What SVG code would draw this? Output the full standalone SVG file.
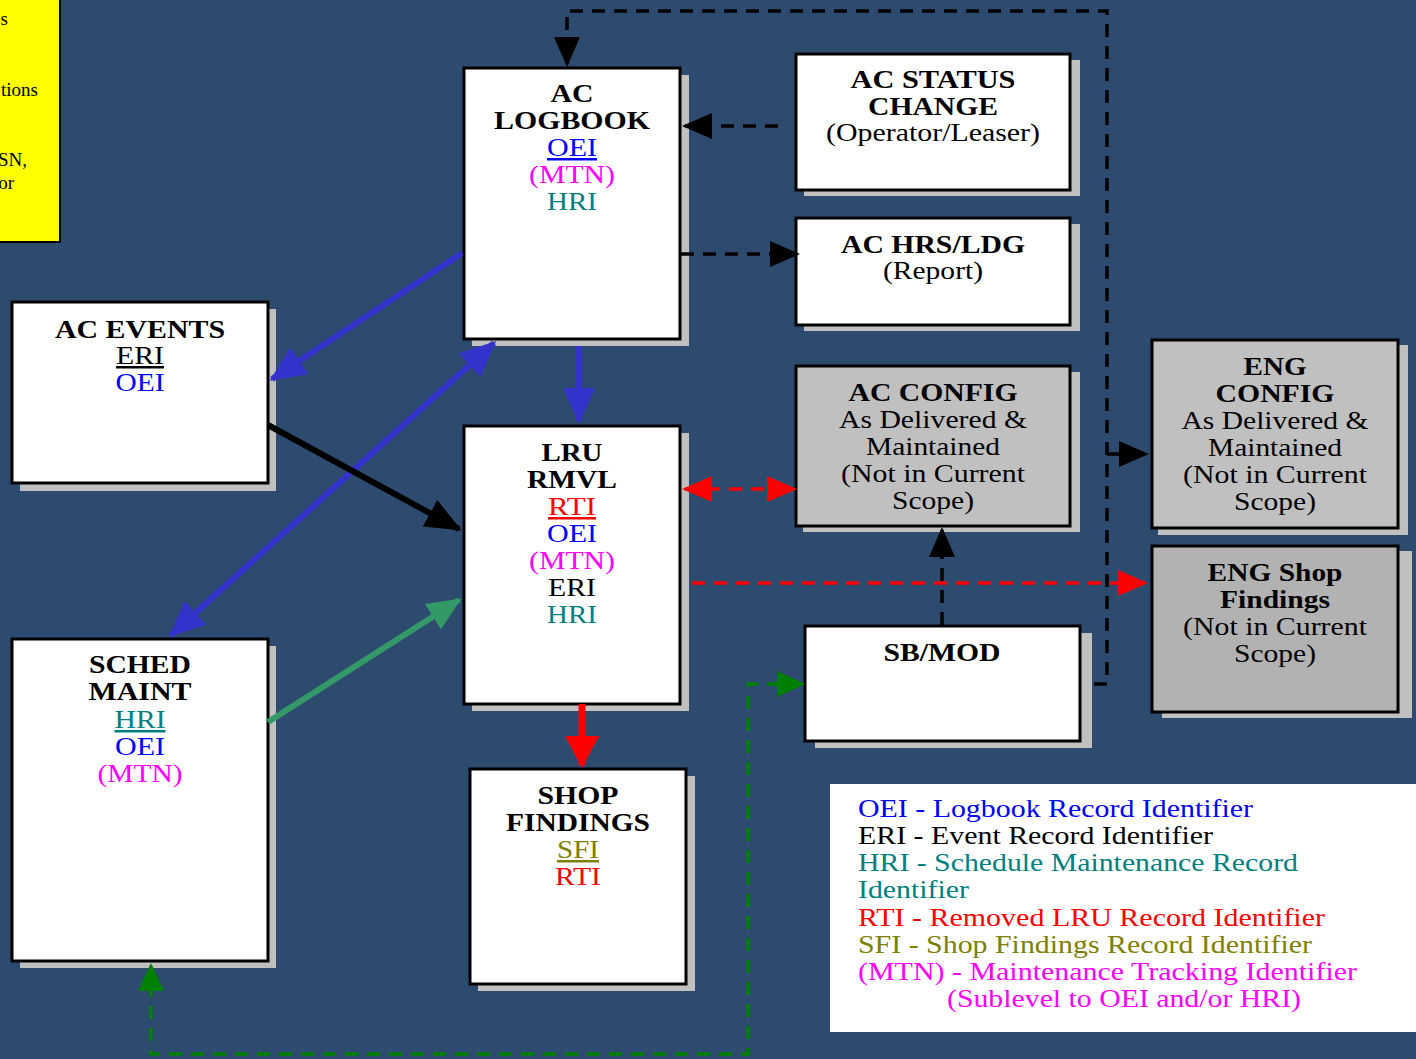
<svg xmlns="http://www.w3.org/2000/svg" width="1416" height="1059" viewBox="0 0 1416 1059">
  <style>
    .box { fill: #FFFFFF; stroke: #000000; stroke-width: 3; }
    .gbox { fill: #C0C0C0; stroke: #000000; stroke-width: 3; }
    .dbox { fill: #B2B2B2; stroke: #000000; stroke-width: 3; }
    .shadow { fill: #C0C0C0; }
    text { font-family: "Liberation Serif", "Times New Roman", serif; font-size: 25px; text-anchor: middle; }
    .b { font-weight: bold; fill: #000000; }
    .k { fill: #000000; }
    .blue { fill: #0000FF; }
    .mag { fill: #FF00FF; }
    .teal { fill: #008080; }
    .red { fill: #FF0000; }
    .olive { fill: #808000; }
    .u { text-decoration: underline; }
    .leg { text-anchor: start; font-size: 25px; }
    .note { text-anchor: end; font-size: 19px; fill: #000000; }
    .dash-k { fill: none; stroke: #000000; stroke-width: 3.5; stroke-dasharray: 13 9; }
    .dash-r { fill: none; stroke: #FF0000; stroke-width: 3.5; stroke-dasharray: 13 9; }
    .dash-g { fill: none; stroke: #008000; stroke-width: 3.5; stroke-dasharray: 13 9; }
    .solid-b { fill: none; stroke: #3333CC; stroke-width: 6; }
    .solid-k { fill: none; stroke: #000000; stroke-width: 6; }
    .solid-g { fill: none; stroke: #339966; stroke-width: 6; }
    .solid-r { fill: none; stroke: #FF0000; stroke-width: 7; }
  </style>
  <defs>
    <marker id="ah-k" markerUnits="userSpaceOnUse" markerWidth="30" markerHeight="26" refX="27" refY="13" orient="auto-start-reverse">
      <path d="M0,0 L30,13 L0,26 Z" fill="#000000"/>
    </marker>
    <marker id="ah-kb" markerUnits="userSpaceOnUse" markerWidth="36" markerHeight="30" refX="33" refY="15" orient="auto-start-reverse">
      <path d="M0,0 L36,15 L0,30 Z" fill="#000000"/>
    </marker>
    <marker id="ah-r" markerUnits="userSpaceOnUse" markerWidth="30" markerHeight="26" refX="27" refY="13" orient="auto-start-reverse">
      <path d="M0,0 L30,13 L0,26 Z" fill="#FF0000"/>
    </marker>
    <marker id="ah-rb" markerUnits="userSpaceOnUse" markerWidth="32" markerHeight="34" refX="29" refY="17" orient="auto-start-reverse">
      <path d="M0,0 L32,17 L0,34 Z" fill="#FF0000"/>
    </marker>
    <marker id="ah-g" markerUnits="userSpaceOnUse" markerWidth="28" markerHeight="26" refX="25" refY="13" orient="auto-start-reverse">
      <path d="M0,0 L28,13 L0,26 Z" fill="#008000"/>
    </marker>
    <marker id="ah-gs" markerUnits="userSpaceOnUse" markerWidth="34" markerHeight="30" refX="31" refY="15" orient="auto-start-reverse">
      <path d="M0,0 L34,15 L0,30 Z" fill="#339966"/>
    </marker>
    <marker id="ah-b" markerUnits="userSpaceOnUse" markerWidth="36" markerHeight="32" refX="33" refY="16" orient="auto-start-reverse">
      <path d="M0,0 L36,16 L0,32 Z" fill="#3333CC"/>
    </marker>
  </defs>

  <!-- page background -->
  <rect x="0" y="0" width="1416" height="1059" fill="#2D4A6F"/>

  <!-- yellow note panel, cut at the left edge -->
  <g id="note">
    <rect x="-4" y="-4" width="64" height="246" fill="#FFFF00" stroke="#000000" stroke-width="2"/>
    <text class="note" x="8" y="25">s</text>
    <text class="note" x="38" y="96">tions</text>
    <text class="note" x="27" y="166">SN,</text>
    <text class="note" x="14" y="189">or</text>
  </g>

  <!-- AC LOGBOOK -->
  <g id="ac-logbook">
    <rect class="shadow" x="472" y="75" width="217" height="271"/>
    <rect class="box" x="464" y="68" width="216" height="271"/>
    <text class="b" x="572" y="102" textLength="43" lengthAdjust="spacingAndGlyphs">AC</text>
    <text class="b" x="572" y="129" textLength="156" lengthAdjust="spacingAndGlyphs">LOGBOOK</text>
    <text class="blue u" x="572" y="156" textLength="50" lengthAdjust="spacingAndGlyphs">OEI</text>
    <text class="mag" x="572" y="183" textLength="86" lengthAdjust="spacingAndGlyphs">(MTN)</text>
    <text class="teal" x="572" y="210" textLength="50" lengthAdjust="spacingAndGlyphs">HRI</text>
  </g>

  <!-- AC STATUS CHANGE -->
  <g id="ac-status-change">
    <rect class="shadow" x="804" y="60" width="276" height="136"/>
    <rect class="box" x="796" y="54" width="274" height="136"/>
    <text class="b" x="933" y="88" textLength="165" lengthAdjust="spacingAndGlyphs">AC STATUS</text>
    <text class="b" x="933" y="115" textLength="130" lengthAdjust="spacingAndGlyphs">CHANGE</text>
    <text class="k" x="933" y="141" textLength="214" lengthAdjust="spacingAndGlyphs">(Operator/Leaser)</text>
  </g>

  <!-- AC HRS/LDG -->
  <g id="ac-hrs-ldg">
    <rect class="shadow" x="804" y="224" width="276" height="107"/>
    <rect class="box" x="796" y="218" width="274" height="107"/>
    <text class="b" x="933" y="253" textLength="184" lengthAdjust="spacingAndGlyphs">AC HRS/LDG</text>
    <text class="k" x="933" y="279" textLength="100" lengthAdjust="spacingAndGlyphs">(Report)</text>
  </g>

  <!-- AC EVENTS -->
  <g id="ac-events">
    <rect class="shadow" x="20" y="309" width="256" height="182"/>
    <rect class="box" x="12" y="302" width="256" height="181"/>
    <text class="b" x="140" y="338" textLength="170" lengthAdjust="spacingAndGlyphs">AC EVENTS</text>
    <text class="k u" x="140" y="364" textLength="48" lengthAdjust="spacingAndGlyphs">ERI</text>
    <text class="blue" x="140" y="391" textLength="49" lengthAdjust="spacingAndGlyphs">OEI</text>
  </g>

  <!-- LRU RMVL -->
  <g id="lru-rmvl">
    <rect class="shadow" x="472" y="433" width="217" height="278"/>
    <rect class="box" x="464" y="426" width="216" height="278"/>
    <text class="b" x="572" y="461" textLength="61" lengthAdjust="spacingAndGlyphs">LRU</text>
    <text class="b" x="572" y="488" textLength="90" lengthAdjust="spacingAndGlyphs">RMVL</text>
    <text class="red u" x="572" y="515" textLength="48" lengthAdjust="spacingAndGlyphs">RTI</text>
    <text class="blue" x="572" y="542" textLength="50" lengthAdjust="spacingAndGlyphs">OEI</text>
    <text class="mag" x="572" y="569" textLength="86" lengthAdjust="spacingAndGlyphs">(MTN)</text>
    <text class="k" x="572" y="596" textLength="48" lengthAdjust="spacingAndGlyphs">ERI</text>
    <text class="teal" x="572" y="623" textLength="50" lengthAdjust="spacingAndGlyphs">HRI</text>
  </g>

  <!-- AC CONFIG -->
  <g id="ac-config">
    <rect class="shadow" x="803" y="372" width="277" height="160"/>
    <rect class="gbox" x="796" y="366" width="274" height="160"/>
    <text class="b" x="933" y="401" textLength="169" lengthAdjust="spacingAndGlyphs">AC CONFIG</text>
    <text class="k" x="933" y="428" textLength="188" lengthAdjust="spacingAndGlyphs">As Delivered &amp;</text>
    <text class="k" x="933" y="455" textLength="134" lengthAdjust="spacingAndGlyphs">Maintained</text>
    <text class="k" x="933" y="482" textLength="184" lengthAdjust="spacingAndGlyphs">(Not in Current</text>
    <text class="k" x="933" y="509" textLength="82" lengthAdjust="spacingAndGlyphs">Scope)</text>
  </g>

  <!-- ENG CONFIG -->
  <g id="eng-config">
    <rect class="shadow" x="1158" y="345" width="250" height="190"/>
    <rect class="gbox" x="1152" y="340" width="246" height="188"/>
    <text class="b" x="1275" y="375" textLength="63" lengthAdjust="spacingAndGlyphs">ENG</text>
    <text class="b" x="1275" y="402" textLength="119" lengthAdjust="spacingAndGlyphs">CONFIG</text>
    <text class="k" x="1275" y="429" textLength="187" lengthAdjust="spacingAndGlyphs">As Delivered &amp;</text>
    <text class="k" x="1275" y="456" textLength="134" lengthAdjust="spacingAndGlyphs">Maintained</text>
    <text class="k" x="1275" y="483" textLength="184" lengthAdjust="spacingAndGlyphs">(Not in Current</text>
    <text class="k" x="1275" y="510" textLength="82" lengthAdjust="spacingAndGlyphs">Scope)</text>
  </g>

  <!-- ENG Shop Findings -->
  <g id="eng-shop-findings">
    <rect class="shadow" x="1162" y="551" width="250" height="167"/>
    <rect class="dbox" x="1152" y="546" width="246" height="166"/>
    <text class="b" x="1275" y="581" textLength="135" lengthAdjust="spacingAndGlyphs">ENG Shop</text>
    <text class="b" x="1275" y="608" textLength="110" lengthAdjust="spacingAndGlyphs">Findings</text>
    <text class="k" x="1275" y="635" textLength="184" lengthAdjust="spacingAndGlyphs">(Not in Current</text>
    <text class="k" x="1275" y="662" textLength="82" lengthAdjust="spacingAndGlyphs">Scope)</text>
  </g>

  <!-- SB/MOD -->
  <g id="sb-mod">
    <rect class="shadow" x="815" y="633" width="277" height="115"/>
    <rect class="box" x="805" y="626" width="275" height="115"/>
    <text class="b" x="942" y="661" textLength="117" lengthAdjust="spacingAndGlyphs">SB/MOD</text>
  </g>

  <!-- SCHED MAINT -->
  <g id="sched-maint">
    <rect class="shadow" x="20" y="646" width="256" height="322"/>
    <rect class="box" x="12" y="639" width="256" height="322"/>
    <text class="b" x="140" y="673" textLength="102" lengthAdjust="spacingAndGlyphs">SCHED</text>
    <text class="b" x="140" y="700" textLength="103" lengthAdjust="spacingAndGlyphs">MAINT</text>
    <text class="teal u" x="140" y="728" textLength="51" lengthAdjust="spacingAndGlyphs">HRI</text>
    <text class="blue" x="140" y="755" textLength="50" lengthAdjust="spacingAndGlyphs">OEI</text>
    <text class="mag" x="140" y="782" textLength="85" lengthAdjust="spacingAndGlyphs">(MTN)</text>
  </g>

  <!-- SHOP FINDINGS -->
  <g id="shop-findings">
    <rect class="shadow" x="478" y="776" width="217" height="215"/>
    <rect class="box" x="470" y="769" width="216" height="215"/>
    <text class="b" x="578" y="804" textLength="81" lengthAdjust="spacingAndGlyphs">SHOP</text>
    <text class="b" x="578" y="831" textLength="144" lengthAdjust="spacingAndGlyphs">FINDINGS</text>
    <text class="olive u" x="578" y="858" textLength="42" lengthAdjust="spacingAndGlyphs">SFI</text>
    <text class="red" x="578" y="885" textLength="46" lengthAdjust="spacingAndGlyphs">RTI</text>
  </g>

  <!-- legend -->
  <g id="legend">
    <rect x="830" y="784" width="590" height="248" fill="#FFFFFF"/>
    <text class="leg blue" x="858" y="817" textLength="395" lengthAdjust="spacingAndGlyphs">OEI - Logbook Record Identifier</text>
    <text class="leg k" x="858" y="844" textLength="355" lengthAdjust="spacingAndGlyphs">ERI - Event Record Identifier</text>
    <text class="leg teal" x="858" y="871" textLength="440" lengthAdjust="spacingAndGlyphs">HRI - Schedule Maintenance Record</text>
    <text class="leg teal" x="858" y="898" textLength="111" lengthAdjust="spacingAndGlyphs">Identifier</text>
    <text class="leg red" x="858" y="926" textLength="467" lengthAdjust="spacingAndGlyphs">RTI - Removed LRU Record Identifier</text>
    <text class="leg olive" x="858" y="953" textLength="454" lengthAdjust="spacingAndGlyphs">SFI - Shop Findings Record Identifier</text>
    <text class="leg mag" x="858" y="980" textLength="499" lengthAdjust="spacingAndGlyphs">(MTN) - Maintenance Tracking Identifier</text>
    <text class="leg mag" x="947" y="1007" textLength="354" lengthAdjust="spacingAndGlyphs">(Sublevel to OEI and/or HRI)</text>
  </g>

  <!-- connectors, drawn over the box shadows -->
  <g id="connectors">
    <!-- SB/MOD loop back to AC LOGBOOK and ENG CONFIG -->
    <path class="dash-k" d="M1094,684 H1107 V11 H567 V64" marker-end="url(#ah-k)"/>
    <path class="dash-k" d="M1107,454 H1146" marker-end="url(#ah-k)"/>
    <!-- AC STATUS CHANGE to AC LOGBOOK -->
    <path class="dash-k" d="M778,126 H685" marker-end="url(#ah-k)"/>
    <!-- AC LOGBOOK to AC HRS/LDG -->
    <path class="dash-k" d="M681,254 H797" marker-end="url(#ah-k)"/>
    <!-- SB/MOD to AC CONFIG -->
    <path class="dash-k" d="M942,625 V530" marker-end="url(#ah-k)"/>
    <!-- LRU RMVL <-> AC CONFIG -->
    <path class="dash-r" d="M685,489 H794" marker-start="url(#ah-r)" marker-end="url(#ah-r)"/>
    <!-- LRU RMVL to ENG Shop Findings -->
    <path class="dash-r" d="M692,583 H1145" marker-end="url(#ah-r)"/>
    <!-- SB/MOD <-> SCHED MAINT -->
    <path class="dash-g" d="M802,684 H748 V1054 H151 V966" marker-start="url(#ah-g)" marker-end="url(#ah-g)"/>
    <!-- AC LOGBOOK to AC EVENTS -->
    <path class="solid-b" d="M462,253 L272,379" marker-end="url(#ah-b)"/>
    <!-- SCHED MAINT <-> AC LOGBOOK -->
    <path class="solid-b" d="M171,635 L494,343" marker-start="url(#ah-b)" marker-end="url(#ah-b)"/>
    <!-- AC LOGBOOK to LRU RMVL -->
    <path class="solid-b" d="M579,346 V421" marker-end="url(#ah-b)"/>
    <!-- AC EVENTS to LRU RMVL -->
    <path class="solid-k" d="M268,425 L459,529" marker-end="url(#ah-kb)"/>
    <!-- SCHED MAINT to LRU RMVL -->
    <path class="solid-g" d="M268,722 L459,600" marker-end="url(#ah-gs)"/>
    <!-- LRU RMVL to SHOP FINDINGS -->
    <path class="solid-r" d="M582,704 V765" marker-end="url(#ah-rb)"/>
  </g>
</svg>
